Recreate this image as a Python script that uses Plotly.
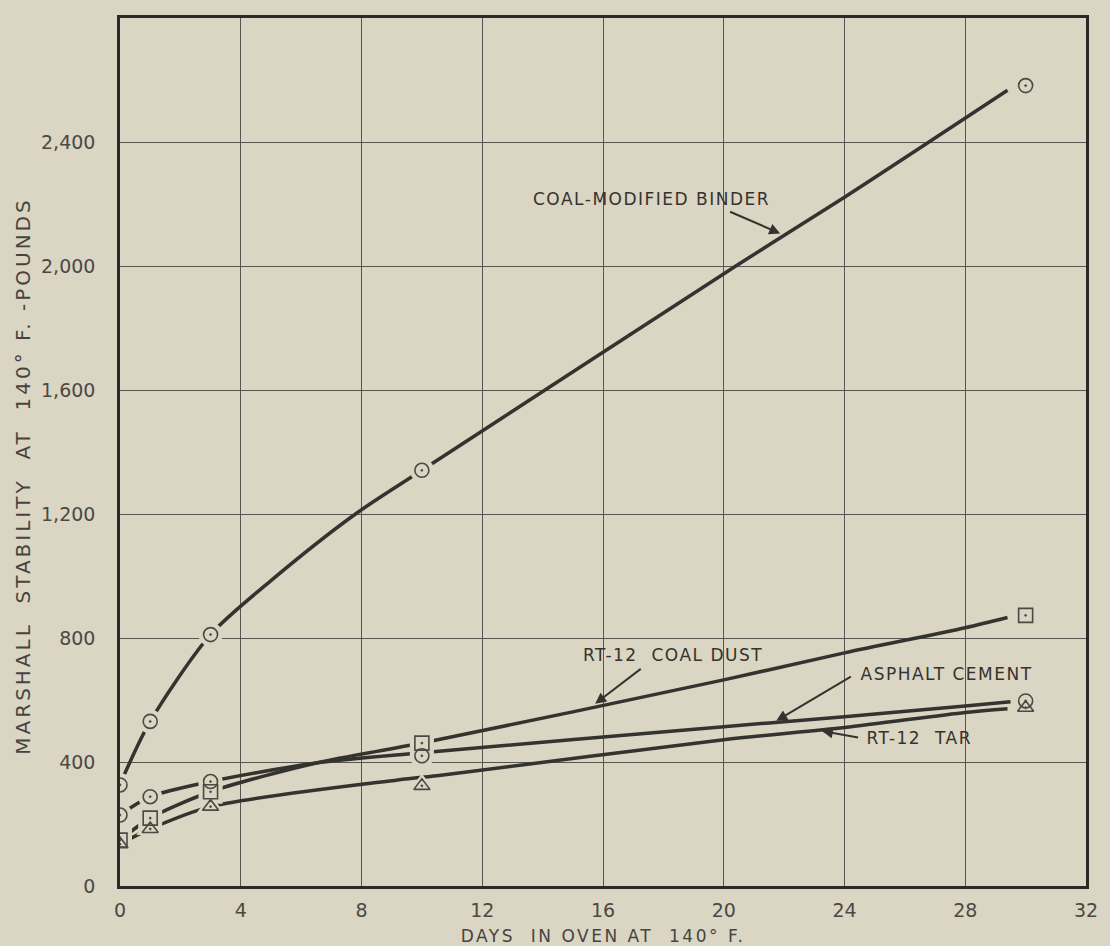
import plotly.graph_objects as go

# ---- data ----
days = [0, 1, 3, 10, 30]
binder = [326, 531, 811, 1341, 2582]
asphalt = [229, 288, 337, 420, 597]
coal_dust = [148, 219, 304, 461, 873]
tar = [135, 184, 256, 323, 575]

# smooth fitted curves, as drawn on the chart
binder_curve_x = [0.1, 1, 3, 5, 7.8, 10, 20.4, 24, 29.4]
binder_curve_y = [350, 531, 811, 985, 1200, 1341, 2000, 2222, 2567]
asphalt_curve_x = [0, 1, 3, 6.5, 10, 20, 24, 28, 29.5]
asphalt_curve_y = [229, 288, 337, 397, 430, 514, 546, 581, 594]
coal_dust_curve_x = [0, 1, 3, 6.5, 10, 20, 24, 28, 29.4]
coal_dust_curve_y = [148, 219, 304, 397, 461, 665, 752, 833, 866]
tar_curve_x = [0, 1, 3, 9.2, 10.7, 20, 24, 28, 29.4]
tar_curve_y = [135, 184, 256, 342, 358, 472, 511, 560, 572]

x_ticks = [0, 4, 8, 12, 16, 20, 24, 28, 32]
y_ticks = [0, 400, 800, 1200, 1600, 2000, 2400]
y_tick_text = ["0", "400", "800", "1,200", "1,600", "2,000", "2,400"]

BG = "#dbd5c3"
INK = "#34332f"
GRID = "#57554f"
FONT = "DejaVu Sans"

fig = go.Figure()

curves = [
    (binder_curve_x, binder_curve_y),
    (asphalt_curve_x, asphalt_curve_y),
    (coal_dust_curve_x, coal_dust_curve_y),
    (tar_curve_x, tar_curve_y),
]
for cx, cy in curves:
    fig.add_trace(go.Scatter(
        x=cx, y=cy, mode="lines",
        line=dict(color=INK, width=3.5, shape="spline", smoothing=0.8),
        hoverinfo="skip", showlegend=False))

series = [
    (binder, "circle"),
    (asphalt, "circle"),
    (coal_dust, "square"),
    (tar, "triangle-up"),
]
# background patches to break the curves around the points
for vals, sym in series:
    fig.add_trace(go.Scatter(
        x=days, y=vals, mode="markers",
        marker=dict(symbol=sym, size=24, color=BG, line=dict(width=0)),
        hoverinfo="skip", showlegend=False))
for vals, sym in series:
    fig.add_trace(go.Scatter(
        x=days, y=vals, mode="markers",
        marker=dict(symbol=sym + "-open-dot", size=14, color="#4a4944",
                    line=dict(width=1.6, color="#4a4944")),
        showlegend=False))

# axis titles (annotations 0 and 1)
fig.add_annotation(xref="paper", yref="paper", x=-0.1, y=0.472,
                   xanchor="center", yanchor="middle",
                   text="MARSHALL  STABILITY  AT  140° F. -POUNDS",
                   textangle=-90, showarrow=False,
                   font=dict(family=FONT, size=20, color="#45443f"))
fig.add_annotation(xref="x", yref="paper", x=16, y=-0.058,
                   xanchor="center", yanchor="middle",
                   text="DAYS  IN OVEN AT  140° F.", showarrow=False,
                   font=dict(family=FONT, size=17, color="#45443f"))

lab_font = dict(family=FONT, size=17, color=INK)
labels = [
    ("COAL-MODIFIED BINDER", 21.1, 2216, "right"),
    ("RT-12  COAL DUST", 21.0, 746, "right"),
    ("ASPHALT CEMENT", 24.8, 685, "left"),
    ("RT-12  TAR", 24.9, 478, "left"),
]
for txt, x, y, anc in labels:
    fig.add_annotation(x=x, y=y, text=txt, showarrow=False, xanchor=anc,
                       yanchor="middle", font=lab_font)

arrows = [
    ((21.87, 2105), (20.16, 2177), 2),
    ((15.74, 588), (17.3, 704), 2),
    ((21.74, 533), (24.26, 678), 2),
    ((23.25, 500), (24.5, 478), 2),
]
for (hx, hy), (tx, ty), head in arrows:
    fig.add_annotation(x=hx, y=hy, ax=tx, ay=ty, axref="x", ayref="y",
                       xref="x", yref="y", text="", showarrow=True,
                       arrowhead=head, arrowsize=1.1, arrowwidth=2,
                       arrowcolor=INK)

fig.update_xaxes(range=[0, 32], tickvals=x_ticks, showgrid=True,
                 gridcolor=GRID, gridwidth=1, zeroline=False,
                 showline=True, linecolor="#2a2926", linewidth=2.5,
                 mirror=True, ticks="", ticklabelstandoff=5,
                 tickfont=dict(family=FONT, size=19, color="#4a4944"))
fig.update_yaxes(range=[0, 2800], tickvals=y_ticks, ticktext=y_tick_text,
                 showgrid=True, gridcolor=GRID, gridwidth=1, zeroline=False,
                 showline=True, linecolor="#2a2926", linewidth=2.5,
                 mirror=True, ticks="", ticklabelstandoff=18,
                 tickfont=dict(family=FONT, size=19, color="#4a4944"))

fig.update_layout(width=1110, height=946, paper_bgcolor=BG, plot_bgcolor=BG,
                  margin=dict(l=120, r=13, t=18, b=60), showlegend=False)

post = """
document.body.style.margin = '0';
document.body.style.background = '%s';
var st = document.createElement('style');
st.textContent =
  'g.annotation text.annotation-text{letter-spacing:1.5px;}' +
  'g.annotation[data-index="0"] text.annotation-text{letter-spacing:3px;}' +
  'g.annotation[data-index="1"] text.annotation-text{letter-spacing:2.5px;}';
document.head.appendChild(st);
""" % BG

fig.write_html("out.html", config={"displayModeBar": False}, post_script=post)
